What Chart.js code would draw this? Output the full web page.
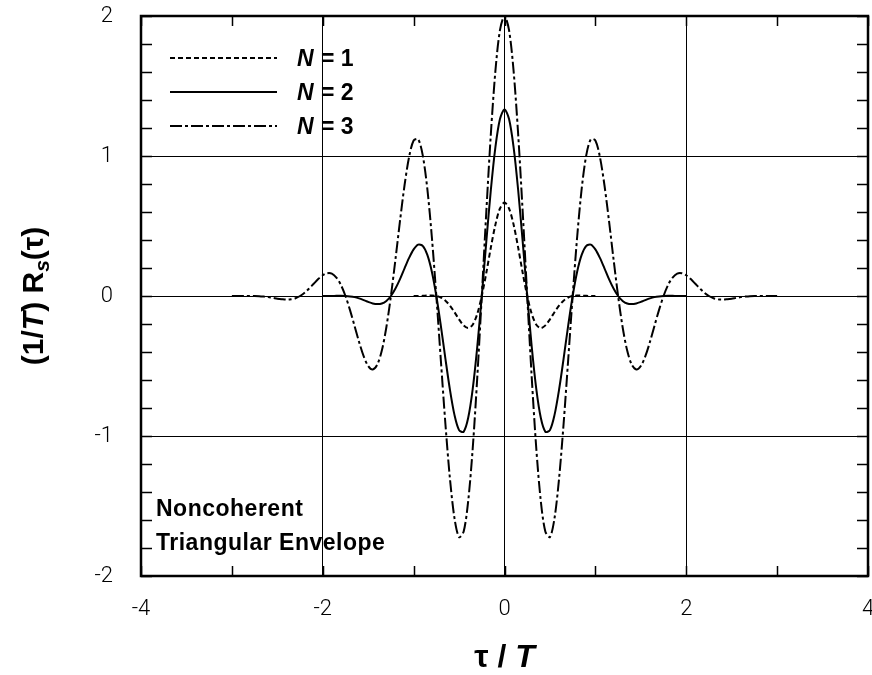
<!DOCTYPE html>
<html>
<head>
<meta charset="utf-8">
<script src="https://cdn.jsdelivr.net/npm/chart.js@4.4.1/dist/chart.umd.min.js"></script>
<style>
  body { margin: 0; background: #fff; }
  canvas { display: block; }
</style>
</head>
<body>
<canvas id="myChart" width="872" height="675"></canvas>
<script>
// tau / T sample points (shared by all curves)
const tau = [
  -3, -2.95, -2.9, -2.85, -2.8, -2.75, -2.7, -2.65, -2.6, -2.55,
  -2.5, -2.45, -2.4, -2.35, -2.3, -2.25, -2.2, -2.15, -2.1, -2.05,
  -2, -1.95, -1.9, -1.85, -1.8, -1.75, -1.7, -1.65, -1.6, -1.55,
  -1.5, -1.45, -1.4, -1.35, -1.3, -1.25, -1.2, -1.15, -1.1, -1.05,
  -1, -0.95, -0.9, -0.85, -0.8, -0.75, -0.7, -0.65, -0.6, -0.55,
  -0.5, -0.45, -0.4, -0.35, -0.3, -0.25, -0.2, -0.15, -0.1, -0.05,
  0,
  0.05, 0.1, 0.15, 0.2, 0.25, 0.3, 0.35, 0.4, 0.45, 0.5,
  0.55, 0.6, 0.65, 0.7, 0.75, 0.8, 0.85, 0.9, 0.95, 1,
  1.05, 1.1, 1.15, 1.2, 1.25, 1.3, 1.35, 1.4, 1.45, 1.5,
  1.55, 1.6, 1.65, 1.7, 1.75, 1.8, 1.85, 1.9, 1.95, 2,
  2.05, 2.1, 2.15, 2.2, 2.25, 2.3, 2.35, 2.4, 2.45, 2.5,
  2.55, 2.6, 2.65, 2.7, 2.75, 2.8, 2.85, 2.9, 2.95, 3
];

// N = 1, tau from -1 to 1
const rN1 = [
  0, 0, 0.001, 0.003, 0.003, 0, -0.011, -0.034, -0.069, -0.116,
  -0.167, -0.210, -0.229, -0.205, -0.128, 0, 0.166, 0.347, 0.510, 0.625,
  0.667,
  0.625, 0.510, 0.347, 0.166, 0, -0.128, -0.205, -0.229, -0.210, -0.167,
  -0.116, -0.069, -0.034, -0.011, 0, 0.003, 0.003, 0.001, 0, 0
];

// N = 2, tau from -2 to 2
const rN2 = [
  0, 0, 0, 0.001, 0.001, 0, -0.003, -0.008, -0.017, -0.029,
  -0.042, -0.053, -0.058, -0.054, -0.035, 0, 0.053, 0.120, 0.197, 0.272,
  0.333, 0.367, 0.358, 0.295, 0.175, 0, -0.215, -0.449, -0.671, -0.851,
  -0.958, -0.970, -0.872, -0.665, -0.365, 0, 0.390, 0.759, 1.063, 1.264,
  1.333,
  1.264, 1.063, 0.759, 0.390, 0, -0.365, -0.665, -0.872, -0.970, -0.958,
  -0.851, -0.671, -0.449, -0.215, 0, 0.175, 0.295, 0.358, 0.367, 0.333,
  0.272, 0.197, 0.120, 0.053, 0, -0.035, -0.054, -0.058, -0.053, -0.042,
  -0.029, -0.017, -0.008, -0.003, 0, 0.001, 0.001, 0, 0, 0
];

// N = 3, tau from -3 to 3
const rN3 = [
  0, 0, 0, 0, 0, 0, -0.001, -0.004, -0.008, -0.013,
  -0.019, -0.023, -0.026, -0.024, -0.016, 0, 0.023, 0.054, 0.087, 0.121,
  0.148, 0.163, 0.160, 0.132, 0.079, 0, -0.101, -0.214, -0.329, -0.430,
  -0.500, -0.525, -0.490, -0.390, -0.223, 0, 0.262, 0.536, 0.791, 0.993,
  1.111, 1.120, 1.006, 0.770, 0.425, 0, -0.463, -0.916, -1.307, -1.589,
  -1.722, -1.684, -1.468, -1.091, -0.585, 0, 0.603, 1.159, 1.608, 1.899,
  2.000,
  1.899, 1.608, 1.159, 0.603, 0, -0.585, -1.091, -1.468, -1.684, -1.722,
  -1.589, -1.307, -0.916, -0.463, 0, 0.425, 0.770, 1.006, 1.120, 1.111,
  0.993, 0.791, 0.536, 0.262, 0, -0.223, -0.390, -0.490, -0.525, -0.500,
  -0.430, -0.329, -0.214, -0.101, 0, 0.079, 0.132, 0.160, 0.163, 0.148,
  0.121, 0.087, 0.054, 0.023, 0, -0.016, -0.024, -0.026, -0.023, -0.019,
  -0.013, -0.008, -0.004, -0.001, 0, 0, 0, 0, 0, 0
];

const seriesNames = ["1", "2", "3"];
const annotationLines = ["Noncoherent", "Triangular Envelope"];

const xTickLabels = [-4, -2, 0, 2, 4];
const yTickLabels = [-2, -1, 0, 1, 2];

const TITLE_FONT = "'Liberation Sans', Arial, sans-serif";

//Pair each curve with its tau values
function toPoints(values) {
  const offset = (tau.length - values.length) / 2;
  return values.map((v, i) => ({ x: tau[i + offset], y: v }));
}

//Draw a run of text pieces centred on (cx, base)
function drawPieces(ctx, pieces, cx, base) {
  let total = 0;
  pieces.forEach((p) => {
    ctx.font = p.font;
    total += ctx.measureText(p.text).width;
  });
  let px = cx - total / 2;
  pieces.forEach((p) => {
    ctx.font = p.font;
    ctx.fillText(p.text, px, base + (p.dy || 0));
    px += ctx.measureText(p.text).width;
  });
}

//Keep the plot box fixed, no extra room for edge labels
function noPad(scale) {
  scale.paddingTop = 0;
  scale.paddingBottom = 0;
  scale.paddingLeft = 0;
  scale.paddingRight = 0;
}

const framePlugin = {
  id: "framePlugin",
  afterDraw(chart) {
    const ctx = chart.ctx;
    const a = chart.chartArea;
    const xs = chart.scales.x;
    const ys = chart.scales.y;
    ctx.save();
    ctx.strokeStyle = "#000";
    ctx.fillStyle = "#000";

    //Inward tick marks
    ctx.lineWidth = 1.5;
    ctx.beginPath();
    ys.ticks.forEach((t) => {
      const py = Math.round(ys.getPixelForValue(t.value)) + 0.5;
      ctx.moveTo(a.left, py);
      ctx.lineTo(a.left + 11, py);
      ctx.moveTo(a.right, py);
      ctx.lineTo(a.right - 11, py);
    });
    xs.ticks.forEach((t) => {
      const px = Math.round(xs.getPixelForValue(t.value)) + 0.5;
      ctx.moveTo(px, a.bottom);
      ctx.lineTo(px, a.bottom - 10);
      ctx.moveTo(px, a.top);
      ctx.lineTo(px, a.top + 10);
    });
    ctx.stroke();

    //Plot frame
    ctx.lineWidth = 2.5;
    ctx.strokeRect(a.left, a.top, a.right - a.left, a.bottom - a.top);

    //Legend
    ctx.lineWidth = 2;
    chart.data.datasets.forEach((ds, i) => {
      const ly = 58 + i * 34;
      ctx.setLineDash(ds.borderDash || []);
      ctx.beginPath();
      ctx.moveTo(170, ly);
      ctx.lineTo(277, ly);
      ctx.stroke();
      ctx.setLineDash([]);
      ctx.textAlign = "left";
      ctx.textBaseline = "alphabetic";
      ctx.font = "italic bold 23px " + TITLE_FONT;
      ctx.fillText("N", 297, ly + 8);
      ctx.font = "bold 23px " + TITLE_FONT;
      ctx.fillText("= " + seriesNames[i], 321, ly + 8);
    });

    //Annotation
    ctx.font = "bold 23px " + TITLE_FONT;
    ctx.letterSpacing = "0.5px";
    ctx.fillText(annotationLines[0], 156, 516);
    ctx.fillText(annotationLines[1], 156, 550);
    ctx.letterSpacing = "0px";

    //x axis title
    drawPieces(ctx, [
      { text: "\u03c4 / ", font: "bold 32px " + TITLE_FONT },
      { text: "T", font: "italic bold 32px " + TITLE_FONT },
    ], (a.left + a.right) / 2, 667);

    //y axis title
    ctx.translate(32, (a.top + a.bottom) / 2);
    ctx.rotate(-Math.PI / 2);
    drawPieces(ctx, [
      { text: "(1/", font: "bold 30px " + TITLE_FONT },
      { text: "T", font: "italic bold 30px " + TITLE_FONT },
      { text: ") R", font: "bold 30px " + TITLE_FONT },
      { text: "s", font: "italic bold 21px " + TITLE_FONT, dy: 6 },
      { text: "(\u03c4)", font: "bold 30px " + TITLE_FONT },
    ], 0, 11);
    ctx.restore();
  },
};

const isInt = (v) => Math.abs(v - Math.round(v)) < 1e-6;

new Chart(document.getElementById("myChart"), {
  type: "line",
  data: {
    datasets: [
      {
        label: "N = 1",
        data: toPoints(rN1),
        borderColor: "#000",
        borderWidth: 2,
        borderDash: [5, 3],
        pointRadius: 0,
        tension: 0.3,
      },
      {
        label: "N = 2",
        data: toPoints(rN2),
        borderColor: "#000",
        borderWidth: 2,
        pointRadius: 0,
        tension: 0.3,
      },
      {
        label: "N = 3",
        data: toPoints(rN3),
        borderColor: "#000",
        borderWidth: 2,
        borderDash: [12, 3, 3, 3],
        pointRadius: 0,
        tension: 0.3,
      },
    ],
  },
  options: {
    responsive: false,
    animation: false,
    layout: { padding: { top: 16, right: 4, left: 0, bottom: 0 } },
    plugins: { legend: { display: false }, tooltip: { enabled: false } },
    scales: {
      x: {
        type: "linear",
        min: -4,
        max: 4,
        afterFit: (scale) => { scale.height = 99; noPad(scale); },
        border: { display: false },
        grid: {
          drawTicks: false,
          lineWidth: 1,
          color: (c) => (xTickLabels.includes(c.tick.value) && Math.abs(c.tick.value) < 4 ? "#000" : "rgba(0,0,0,0)"),
        },
        ticks: {
          stepSize: 1,
          autoSkip: false,
          maxRotation: 0,
          padding: 20,
          color: "#000",
          font: { family: "Roboto, 'DejaVu Sans', sans-serif", size: 22, weight: "300" },
          callback: (v) => (xTickLabels.includes(v) ? String(v) : ""),
        },
      },
      y: {
        min: -2,
        max: 2,
        afterFit: (scale) => { scale.width = 141; noPad(scale); },
        border: { display: false },
        grid: {
          drawTicks: false,
          lineWidth: 1,
          color: (c) => (isInt(c.tick.value) && Math.abs(c.tick.value) < 2 ? "#000" : "rgba(0,0,0,0)"),
        },
        ticks: {
          stepSize: 0.2,
          autoSkip: false,
          padding: 28,
          color: "#000",
          font: { family: "Roboto, 'DejaVu Sans', sans-serif", size: 22, weight: "300" },
          callback: (v) => (isInt(v) && yTickLabels.includes(Math.round(v)) ? String(Math.round(v)) : ""),
        },
      },
    },
  },
  plugins: [framePlugin],
});
</script>
</body>
</html>
